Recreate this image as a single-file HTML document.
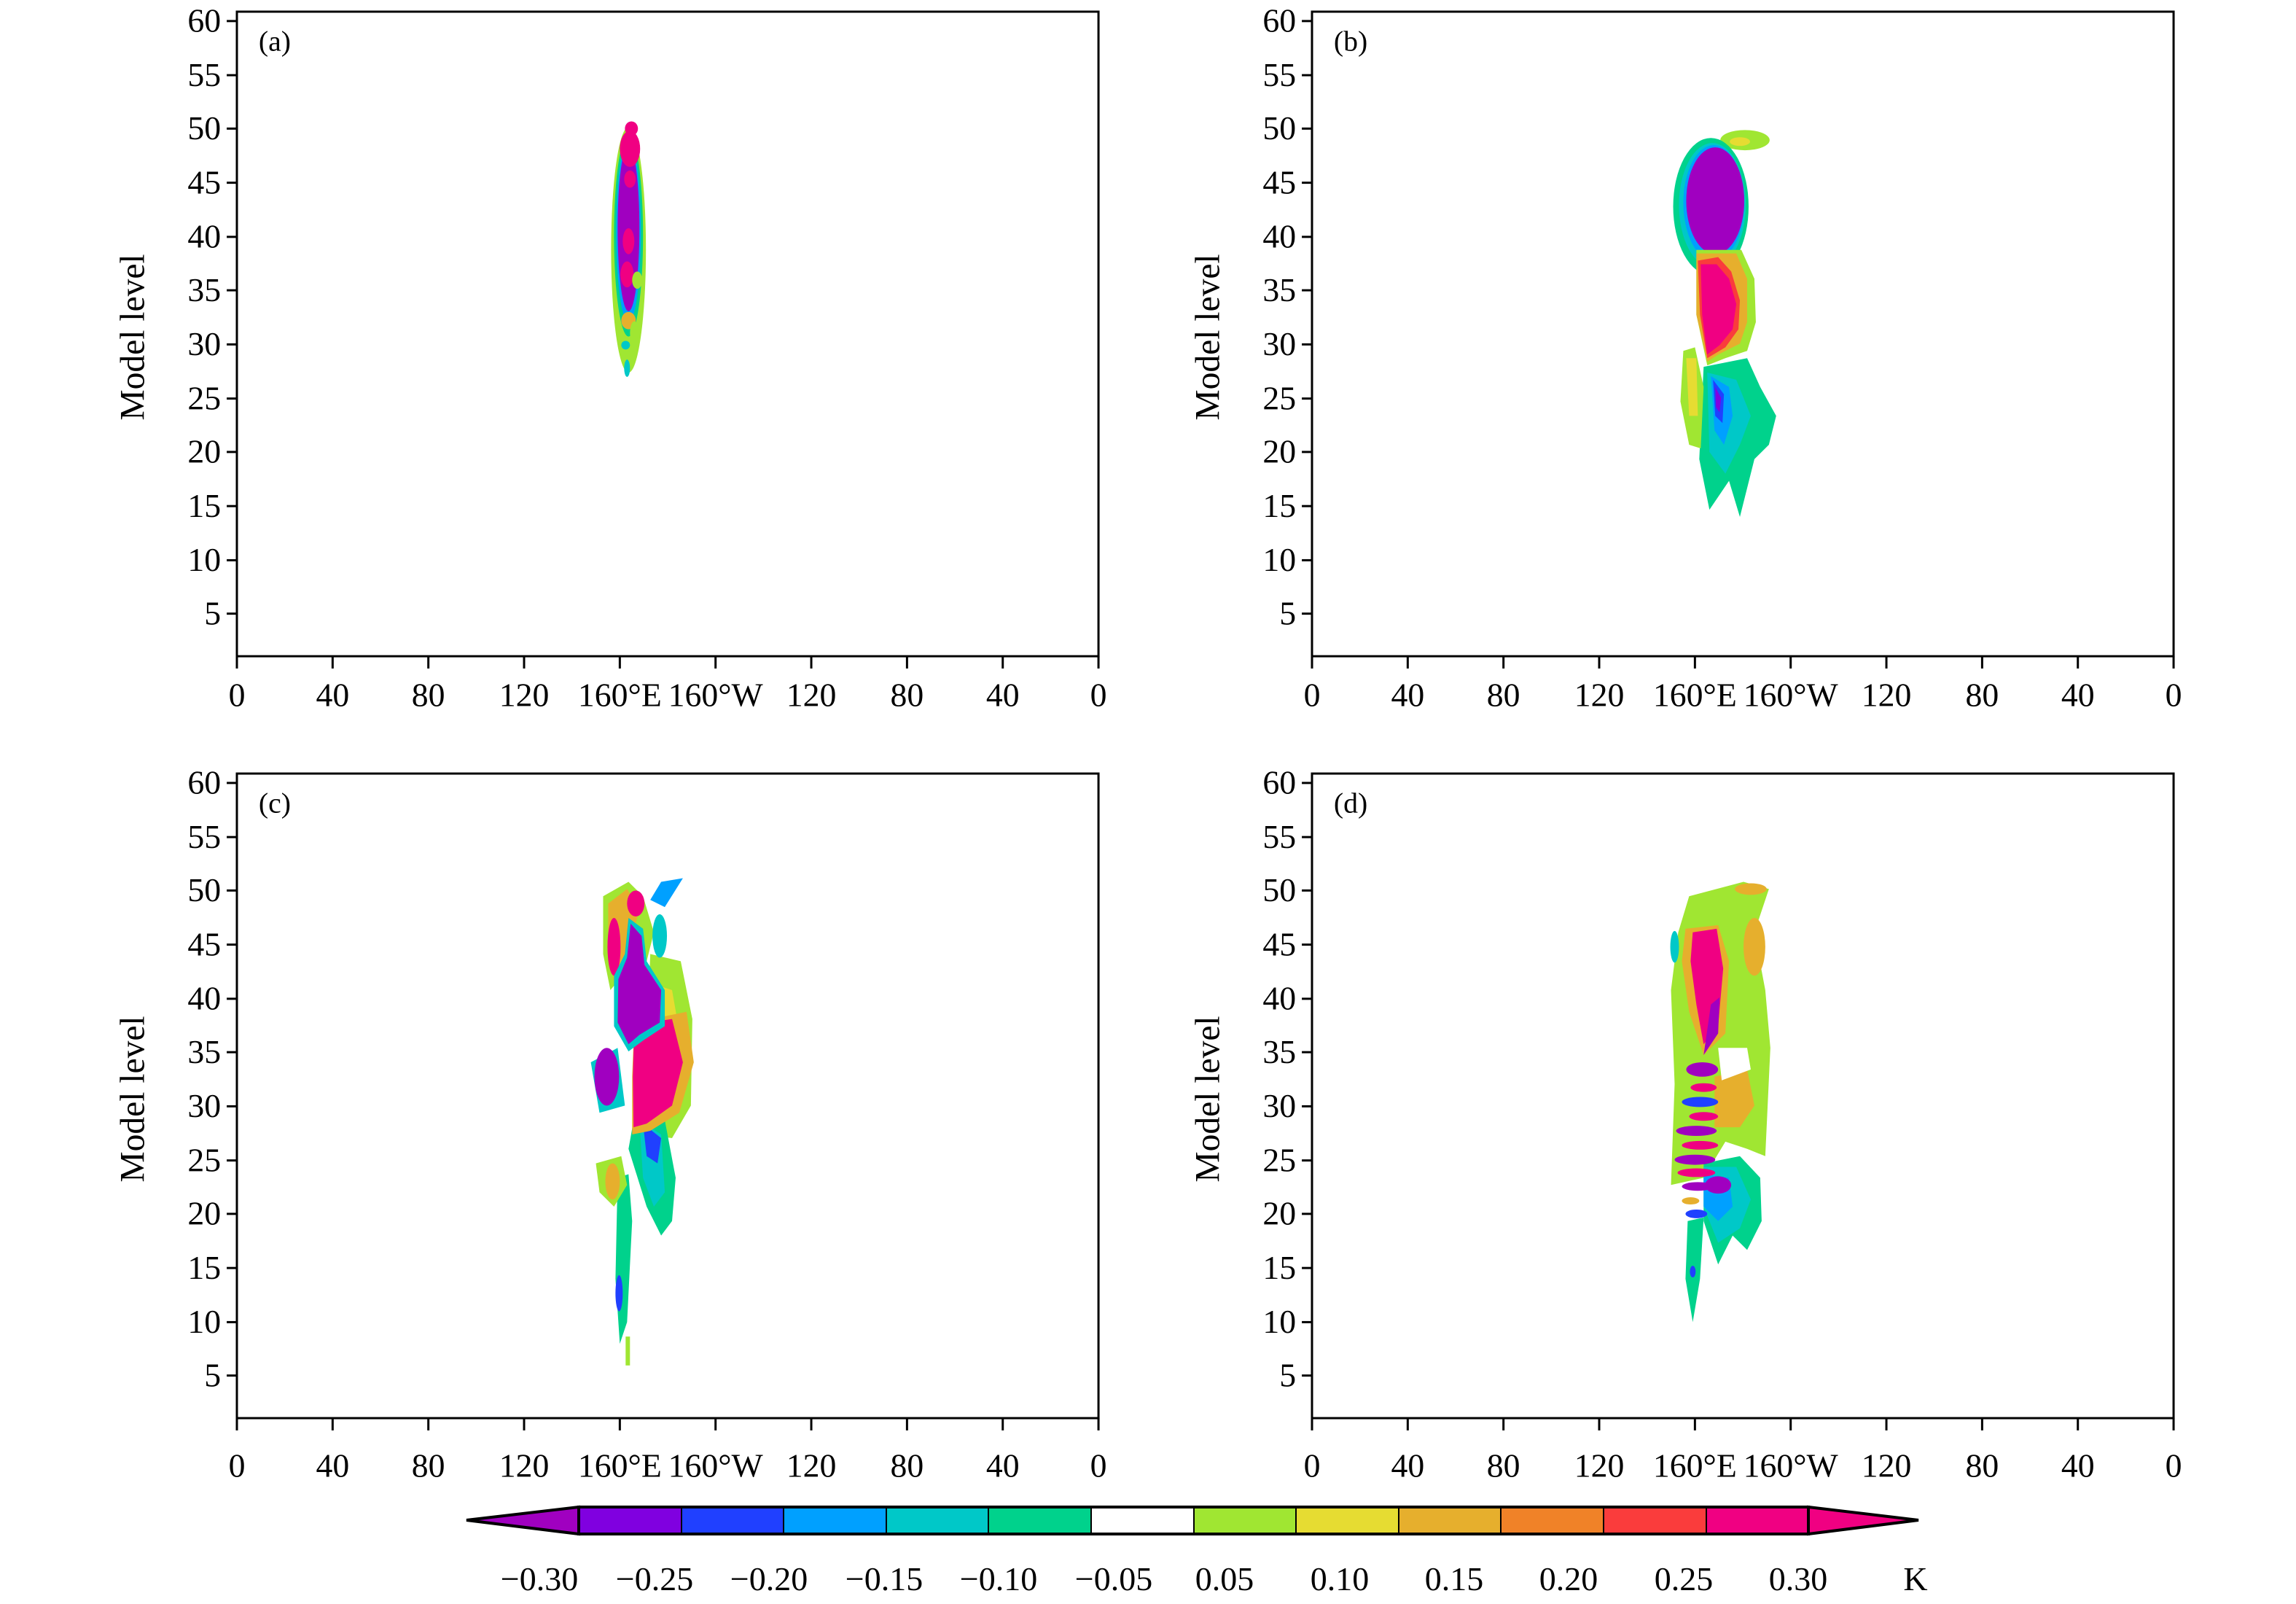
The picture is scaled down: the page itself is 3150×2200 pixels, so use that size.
<!DOCTYPE html>
<html><head><meta charset="utf-8"><style>
html,body{margin:0;padding:0;background:#fff}
svg{display:block}
text{font-family:"Liberation Serif",serif;fill:#000}
</style></head><body>
<svg width="3150" height="2200" viewBox="0 0 3150 2200" xmlns="http://www.w3.org/2000/svg">
<defs>
<g id="ticks">
  <rect x="0" y="0" width="1188" height="893" fill="none" stroke="#000" stroke-width="3"/>
  <g stroke="#000" stroke-width="3">
    <line x1="-14" y1="13" x2="0" y2="13"/><line x1="-14" y1="88" x2="0" y2="88"/>
    <line x1="-14" y1="162" x2="0" y2="162"/><line x1="-14" y1="237" x2="0" y2="237"/>
    <line x1="-14" y1="312" x2="0" y2="312"/><line x1="-14" y1="386" x2="0" y2="386"/>
    <line x1="-14" y1="461" x2="0" y2="461"/><line x1="-14" y1="536" x2="0" y2="536"/>
    <line x1="-14" y1="610" x2="0" y2="610"/><line x1="-14" y1="685" x2="0" y2="685"/>
    <line x1="-14" y1="760" x2="0" y2="760"/><line x1="-14" y1="834" x2="0" y2="834"/>
    <line x1="0" y1="893" x2="0" y2="910"/><line x1="132" y1="893" x2="132" y2="910"/>
    <line x1="264" y1="893" x2="264" y2="910"/><line x1="396" y1="893" x2="396" y2="910"/>
    <line x1="528" y1="893" x2="528" y2="910"/><line x1="660" y1="893" x2="660" y2="910"/>
    <line x1="792" y1="893" x2="792" y2="910"/><line x1="924" y1="893" x2="924" y2="910"/>
    <line x1="1056" y1="893" x2="1056" y2="910"/><line x1="1188" y1="893" x2="1188" y2="910"/>
  </g>
  <g font-size="46" text-anchor="end">
    <text x="-22" y="28">60</text><text x="-22" y="103">55</text><text x="-22" y="177">50</text>
    <text x="-22" y="252">45</text><text x="-22" y="327">40</text><text x="-22" y="401">35</text>
    <text x="-22" y="476">30</text><text x="-22" y="551">25</text><text x="-22" y="625">20</text>
    <text x="-22" y="700">15</text><text x="-22" y="775">10</text><text x="-22" y="849">5</text>
  </g>
  <text transform="translate(-128,451) rotate(-90)" font-size="48" text-anchor="middle">Model level</text>
</g>
<g id="xl">
  <g font-size="46" text-anchor="middle">
    <text x="0" y="0">0</text><text x="132" y="0">40</text><text x="264" y="0">80</text>
    <text x="396" y="0">120</text><text x="528" y="0">160°E</text><text x="660" y="0">160°W</text>
    <text x="792" y="0">120</text><text x="924" y="0">80</text><text x="1056" y="0">40</text>
    <text x="1188" y="0">0</text>
  </g>
</g>
<g id="axesTop"><use href="#ticks"/><use href="#xl" y="962"/></g>
<g id="axesBot"><use href="#ticks"/><use href="#xl" y="974"/></g>
</defs>

<!-- Panel a -->
<g transform="translate(325,16) scale(0.995,0.99)">
  <g>
    <ellipse cx="540" cy="330" rx="24" ry="170" fill="#A0E632"/>
    <ellipse cx="540" cy="310" rx="20" ry="140" fill="#00D28C"/>
    <ellipse cx="540" cy="305" rx="17" ry="125" fill="#00A0FF"/>
    <ellipse cx="540" cy="300" rx="15" ry="115" fill="#A000C0"/>
    <ellipse cx="542" cy="190" rx="14" ry="25" fill="#F00082"/>
    <ellipse cx="544" cy="162" rx="9" ry="10" fill="#F00082"/>
    <ellipse cx="542" cy="232" rx="8" ry="12" fill="#F00082"/>
    <ellipse cx="540" cy="318" rx="8" ry="18" fill="#F00082"/>
    <ellipse cx="538" cy="364" rx="9" ry="18" fill="#F00082"/>
    <ellipse cx="552" cy="372" rx="7" ry="12" fill="#A0E632"/>
    <ellipse cx="540" cy="428" rx="10" ry="12" fill="#E6AF2D"/>
    <ellipse cx="548" cy="445" rx="6" ry="16" fill="#A0E632"/>
    <ellipse cx="536" cy="462" rx="6" ry="6" fill="#00C8C8"/>
    <ellipse cx="538" cy="494" rx="4" ry="12" fill="#00C8C8"/>
  </g>
  <text x="30" y="54" font-size="40">(a)</text>
  <use href="#axesTop"/>
</g>

<!-- Panel b -->
<g transform="translate(1800,16) scale(0.995,0.99)">
  <ellipse cx="597" cy="178" rx="34" ry="14" fill="#A0E632"/>
  <ellipse cx="590" cy="180" rx="14" ry="6" fill="#E6DC32"/>
  <path d="M540 492 L600 480 L618 520 L640 560 L630 600 L610 620 L590 700 L575 650 L548 690 L534 620 Z" fill="#00D28C"/>
  <path d="M545 500 L585 510 L605 560 L590 600 L570 640 L548 610 Z" fill="#00C8C8"/>
  <path d="M550 505 L575 520 L580 560 L568 600 L555 580 Z" fill="#00A0FF"/>
  <path d="M553 510 L568 530 L566 570 L556 560 Z" fill="#2040FF"/>
  <path d="M556 520 L564 535 L562 555 L557 548 Z" fill="#8000E0"/>
  <path d="M512 470 L528 465 L540 520 L536 605 L520 600 L508 540 Z" fill="#A0E632"/>
  <path d="M516 480 L530 480 L532 560 L520 560 Z" fill="#E6DC32"/>
  <ellipse cx="550" cy="270" rx="52" ry="95" fill="#00D28C"/>
  <ellipse cx="552" cy="268" rx="46" ry="86" fill="#00C8C8"/>
  <ellipse cx="554" cy="265" rx="42" ry="80" fill="#00A0FF"/>
  <ellipse cx="556" cy="262" rx="40" ry="74" fill="#A000C0"/>
  <path d="M530 330 L592 330 L610 370 L612 430 L600 470 L570 480 L545 490 L530 420 Z" fill="#A0E632"/>
  <path d="M530 335 L585 335 L600 370 L600 430 L590 460 L560 475 L545 485 L530 420 Z" fill="#E6AF2D"/>
  <path d="M532 345 L560 340 L578 360 L590 400 L588 440 L570 465 L545 480 L535 420 Z" fill="#FA3C3C"/>
  <path d="M536 350 L558 350 L575 370 L585 405 L580 440 L562 462 L545 475 L538 420 Z" fill="#F00082"/>
  <text x="30" y="54" font-size="40">(b)</text>
  <use href="#axesTop"/>
</g>

<!-- Panel c -->
<g transform="translate(325,1061) scale(0.995,0.99)">
  <path d="M570 250 L612 260 L628 340 L626 460 L600 505 L560 500 Z" fill="#A0E632"/>
  <path d="M570 290 L600 300 L614 380 L605 460 L570 490 Z" fill="#E6DC32"/>
  <path d="M548 475 L590 480 L605 560 L600 620 L585 640 L565 600 L540 520 Z" fill="#00D28C"/>
  <path d="M555 480 L585 500 L590 580 L575 600 L560 560 Z" fill="#00C8C8"/>
  <path d="M560 485 L585 505 L580 540 L565 530 Z" fill="#2040FF"/>
  <path d="M525 560 L540 555 L545 620 L538 760 L528 790 L522 700 Z" fill="#00D28C"/>
  <ellipse cx="527" cy="720" rx="5" ry="25" fill="#2040FF"/>
  <rect x="536" y="780" width="6" height="40" fill="#A0E632"/>
  <path d="M495 540 L530 530 L538 570 L520 600 L500 580 Z" fill="#A0E632"/>
  <ellipse cx="518" cy="565" rx="10" ry="25" fill="#E6AF2D"/>
  <path d="M488 400 L525 380 L535 460 L500 470 Z" fill="#00C8C8"/>
  <ellipse cx="510" cy="420" rx="17" ry="40" fill="#A000C0"/>
  <path d="M505 170 L540 150 L560 170 L575 220 L565 260 L540 270 L515 300 L505 250 Z" fill="#A0E632"/>
  <path d="M512 180 L538 160 L555 185 L545 230 L520 290 L512 240 Z" fill="#E6AF2D"/>
  <ellipse cx="520" cy="240" rx="9" ry="40" fill="#F00082"/>
  <ellipse cx="550" cy="180" rx="12" ry="18" fill="#F00082"/>
  <path d="M585 150 L615 145 L590 185 L570 175 Z" fill="#00A0FF"/>
  <ellipse cx="583" cy="225" rx="10" ry="30" fill="#00C8C8"/>
  <path d="M548 345 L620 330 L630 400 L610 470 L570 495 L545 500 L545 420 Z" fill="#E6AF2D"/>
  <path d="M548 348 L600 340 L615 400 L600 460 L565 485 L547 490 L546 420 Z" fill="#F00082"/>
  <path d="M540 200 L560 215 L565 260 L590 300 L590 350 L560 370 L540 385 L520 350 L520 280 L535 250 Z" fill="#00C8C8"/>
  <path d="M543 208 L558 225 L562 265 L585 300 L583 345 L555 362 L540 375 L525 345 L526 285 L538 255 Z" fill="#A000C0"/>
  <text x="30" y="54" font-size="40">(c)</text>
  <use href="#axesBot"/>
</g>

<!-- Panel d -->
<g transform="translate(1800,1061) scale(0.995,0.99)">
  <path d="M520 170 L595 150 L630 160 L610 220 L625 300 L632 380 L625 530 L600 520 L570 510 L540 560 L495 570 L500 430 L495 300 L505 220 Z" fill="#A0E632"/>
  <ellipse cx="605" cy="160" rx="22" ry="8" fill="#E6AF2D"/>
  <ellipse cx="610" cy="240" rx="15" ry="40" fill="#E6AF2D"/>
  <path d="M555 420 L600 410 L610 460 L590 490 L555 490 Z" fill="#E6AF2D"/>
  <path d="M560 380 L600 380 L605 410 L565 425 Z" fill="#fff"/>
  <path d="M515 215 L560 210 L575 260 L570 360 L540 390 L520 330 L510 260 Z" fill="#E6AF2D"/>
  <path d="M525 220 L558 215 L567 270 L560 350 L540 375 L530 320 L522 260 Z" fill="#F00082"/>
  <path d="M550 320 L562 310 L560 360 L540 390 Z" fill="#A000C0"/>
  <path d="M540 540 L590 530 L618 560 L620 620 L600 660 L580 640 L560 680 L540 620 Z" fill="#00D28C"/>
  <path d="M540 545 L585 545 L605 590 L590 630 L560 650 L540 600 Z" fill="#00C8C8"/>
  <path d="M540 555 L575 560 L580 600 L560 620 L540 600 Z" fill="#00A0FF"/>
  <ellipse cx="560" cy="570" rx="18" ry="12" fill="#A000C0"/>
  <g>
    <ellipse cx="538" cy="410" rx="22" ry="10" fill="#A000C0"/>
    <ellipse cx="540" cy="435" rx="18" ry="6" fill="#F00082"/>
    <ellipse cx="535" cy="455" rx="25" ry="7" fill="#2040FF"/>
    <ellipse cx="540" cy="475" rx="20" ry="6" fill="#F00082"/>
    <ellipse cx="530" cy="495" rx="28" ry="7" fill="#A000C0"/>
    <ellipse cx="535" cy="515" rx="25" ry="6" fill="#F00082"/>
    <ellipse cx="528" cy="535" rx="28" ry="7" fill="#A000C0"/>
    <ellipse cx="530" cy="553" rx="26" ry="6" fill="#F00082"/>
    <ellipse cx="532" cy="572" rx="22" ry="6" fill="#A000C0"/>
    <ellipse cx="522" cy="592" rx="12" ry="5" fill="#E6AF2D"/>
    <ellipse cx="530" cy="610" rx="15" ry="6" fill="#2040FF"/>
  </g>
  <path d="M518 620 L540 615 L535 700 L525 760 L515 700 Z" fill="#00D28C"/>
  <ellipse cx="525" cy="690" rx="4" ry="8" fill="#2040FF"/>
  <ellipse cx="500" cy="240" rx="6" ry="22" fill="#00C8C8"/>
  <text x="30" y="54" font-size="40">(d)</text>
  <use href="#axesBot"/>
</g>

<!-- Colorbar -->
<g>
  <polygon points="794,2067 640,2085 794,2104" fill="#A000C0" stroke="#000" stroke-width="4"/>
  <polygon points="2481,2067 2632,2085 2481,2104" fill="#F00082" stroke="#000" stroke-width="4"/>
  <rect x="794" y="2067" width="141" height="37" fill="#8000E0"/>
  <rect x="935" y="2067" width="141" height="37" fill="#2040FF"/>
  <rect x="1075" y="2067" width="141" height="37" fill="#00A0FF"/>
  <rect x="1216" y="2067" width="141" height="37" fill="#00C8C8"/>
  <rect x="1356" y="2067" width="141" height="37" fill="#00D28C"/>
  <rect x="1497" y="2067" width="141" height="37" fill="#FFFFFF"/>
  <rect x="1638" y="2067" width="141" height="37" fill="#A0E632"/>
  <rect x="1778" y="2067" width="141" height="37" fill="#E6DC32"/>
  <rect x="1919" y="2067" width="141" height="37" fill="#E6AF2D"/>
  <rect x="2059" y="2067" width="141" height="37" fill="#F08228"/>
  <rect x="2200" y="2067" width="141" height="37" fill="#FA3C3C"/>
  <rect x="2341" y="2067" width="140" height="37" fill="#F00082"/>
  <rect x="794" y="2067" width="1687" height="37" fill="none" stroke="#000" stroke-width="4"/>
  <g stroke="#000" stroke-width="2">
    <line x1="935" y1="2067" x2="935" y2="2104"/><line x1="1075" y1="2067" x2="1075" y2="2104"/>
    <line x1="1216" y1="2067" x2="1216" y2="2104"/><line x1="1356" y1="2067" x2="1356" y2="2104"/>
    <line x1="1497" y1="2067" x2="1497" y2="2104"/><line x1="1638" y1="2067" x2="1638" y2="2104"/>
    <line x1="1778" y1="2067" x2="1778" y2="2104"/><line x1="1919" y1="2067" x2="1919" y2="2104"/>
    <line x1="2059" y1="2067" x2="2059" y2="2104"/><line x1="2200" y1="2067" x2="2200" y2="2104"/>
    <line x1="2341" y1="2067" x2="2341" y2="2104"/>
  </g>
  <g font-size="46" text-anchor="middle">
    <text x="740" y="2181">−0.30</text><text x="898" y="2181">−0.25</text><text x="1055" y="2181">−0.20</text>
    <text x="1213" y="2181">−0.15</text><text x="1370" y="2181">−0.10</text><text x="1528" y="2181">−0.05</text>
    <text x="1680" y="2181">0.05</text><text x="1838" y="2181">0.10</text><text x="1995" y="2181">0.15</text>
    <text x="2152" y="2181">0.20</text><text x="2310" y="2181">0.25</text><text x="2467" y="2181">0.30</text>
    <text x="2628" y="2181">K</text>
  </g>
</g>
</svg>
</body></html>
